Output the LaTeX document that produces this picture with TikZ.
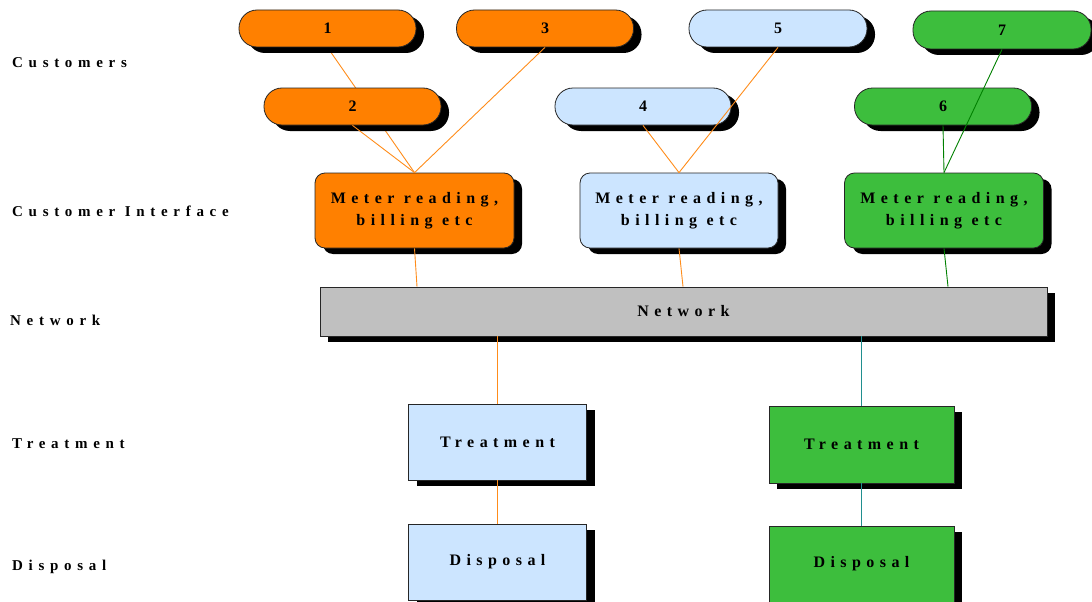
\documentclass[tikz,border=0pt]{standalone}
\usepackage{fontspec}
\setmainfont{Liberation Serif}
\newfontfamily\boxfont{Liberation Serif}[LetterSpace=34]
\newfontfamily\lblfont{Liberation Serif}[LetterSpace=38]
\usetikzlibrary{shadows,backgrounds}
\definecolor{cOr}{HTML}{FF8000}
\definecolor{cBl}{HTML}{CCE5FF}
\definecolor{cGr}{HTML}{3DBE3D}
\definecolor{cGy}{HTML}{C0C0C0}
\definecolor{lOr}{HTML}{FF8C1A}
\definecolor{lGr}{HTML}{008000}
\definecolor{lTe}{HTML}{208F8F}
\begin{document}
\begin{tikzpicture}[x=1pt,y=-1pt,
  shd/.style={drop shadow={shadow xshift=8pt,shadow yshift=-6pt,fill=black,opacity=1}},
  box/.style={draw=black!85,line width=0.8pt,shd,font=\boxfont\bfseries\fontsize{16}{22}\selectfont,inner sep=0pt,align=center},
  cust/.style={box,rounded corners=18pt,minimum width=177pt,minimum height=37pt},
  meter/.style={box,rounded corners=10pt,minimum width=199pt,minimum height=75pt},
  stage/.style={box,minimum width=178pt,minimum height=76pt},
  lbl/.style={anchor=west,font=\lblfont\bfseries\fontsize{15}{17}\selectfont,inner sep=0pt},
  lo/.style={draw=lOr,line width=0.9pt},
  lg/.style={draw=lGr,line width=0.9pt},
  lt/.style={draw=lTe,line width=0.9pt},
  vert/.style={line width=1.2pt}]
\useasboundingbox (0,0) rectangle (1092,602);
% left labels
\node[lbl] (L1) at (12,63) {Customers};
\node[lbl] (L2) at (12,211) {Customer Interface};
\node[lbl] (L3) at (10,320) {Network};
\node[lbl] (L4) at (12,444) {Treatment};
\node[lbl] (L5) at (12,567) {Disposal};
% customers
\node[cust,fill=cOr] (c1) at (327.5,28.5) {1};
\node[cust,fill=cOr] (c3) at (545,28.5) {3};
\node[cust,fill=cBl,minimum width=178pt] (c5) at (778,28.5) {5};
\node[cust,fill=cGr,minimum width=178pt,minimum height=38pt] (c7) at (1002,30) {7};
% meters (placed before row 2 so a line can pass behind c2)
\node[meter,fill=cOr] (m1) at (414.5,210.5) {Meter reading,\\billing etc};
\node[meter,fill=cBl,minimum width=198pt] (m2) at (679,210.5) {Meter reading,\\billing etc};
\node[meter,fill=cGr] (m3) at (944,210.5) {Meter reading,\\billing etc};
\begin{pgfonlayer}{background}
\draw[lo] (c1.south) -- (m1.north);
\end{pgfonlayer}
\node[cust,fill=cOr] (c2) at (352.5,106.5) {2};
\node[cust,fill=cBl,minimum width=176pt] (c4) at (643,106.5) {4};
\node[cust,fill=cGr] (c6) at (943,106.5) {6};
% network
\node[box,fill=cGy,minimum width=727pt,minimum height=49pt] (net) at (683.5,311.5) {Network};
% treatment and disposal
\node[stage,fill=cBl] (t1) at (497.5,442) {Treatment};
\node[stage,fill=cGr,minimum width=185pt,minimum height=77pt] (t2) at (861.5,444.5) {Treatment};
\node[stage,fill=cBl] (d1) at (497.5,562) {Disposal};
\node[stage,fill=cGr,minimum width=185pt] (d2) at (861.5,564) {Disposal};
% connectors
\draw[lo] (c2.south) -- (m1.north);
\draw[lo] (c3.south) -- (m1.north);
\draw[lo] (c4.south) -- (m2.north);
\draw[lo] (c5.south) -- (m2.north);
\draw[lg] (c6.south) -- (m3.north);
\draw[lg] (c7.south) -- (m3.north);
\draw[lo] (m1.south) -- ([xshift=2.5pt]m1.south |- net.north);
\draw[lo] (m2.south) -- ([xshift=4pt]m2.south |- net.north);
\draw[lg] (m3.south) -- ([xshift=4pt]m3.south |- net.north);
\draw[lo,vert] (t1.north |- net.south) -- (t1.north);
\draw[lt,vert] (t2.north |- net.south) -- (t2.north);
\draw[lo,vert] (t1.south) -- (d1.north);
\draw[lt,vert] (t2.south) -- (d2.north);
\end{tikzpicture}
\end{document}
